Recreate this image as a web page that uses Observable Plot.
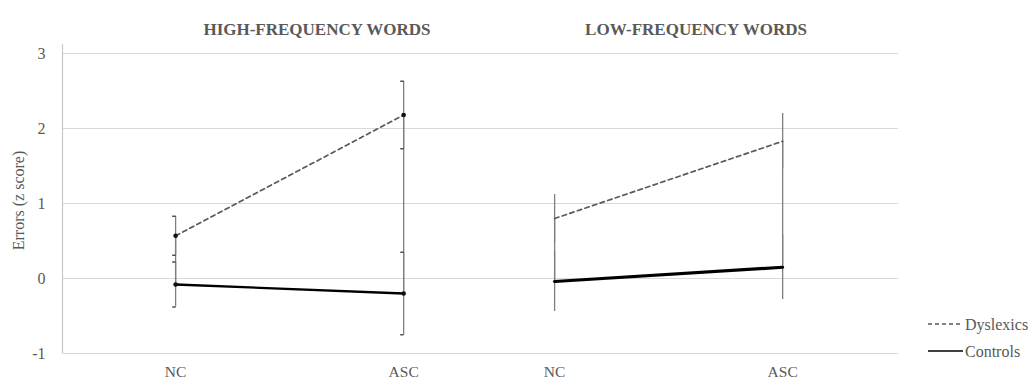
<!DOCTYPE html>
<html>
<head>
<meta charset="utf-8">
<script src="https://cdn.jsdelivr.net/npm/d3@7"></script>
<script src="https://cdn.jsdelivr.net/npm/@observablehq/plot@0.6"></script>
<style>
  html, body { margin: 0; padding: 0; background: #fff; }
  #chart { position: relative; width: 1031px; height: 381px; }
  #chart svg text { font-family: 'Liberation Serif', 'Times New Roman', serif; }
</style>
</head>
<body>
<div id="chart"></div>
<script>
// ---- data ----
const groups = ["HIGH-FREQUENCY WORDS", "LOW-FREQUENCY WORDS"];
const conditions = ["NC", "ASC"];
const seriesNames = ["Dyslexics", "Controls"];
// order: HF NC, HF ASC, LF NC, LF ASC
const dyslexicsMean = [0.57, 2.18, 0.80, 1.83];
const dyslexicsErr  = [0.26, 0.45, 0.32, 0.37];
const controlsMean  = [-0.08, -0.20, -0.04, 0.15];
const controlsErr   = [0.30, 0.55, 0.40, 0.43];
const yTicks = [-1, 0, 1, 2, 3];

// ---- tables ----
const groupOffset = 1.662; // horizontal spacing between the two word-frequency panels
const rows = [];
const cats = [];
groups.forEach((g, gi) => {
  conditions.forEach((c, ci) => {
    const k = gi * 2 + ci;
    const pos = gi * groupOffset + ci;
    rows.push({group: g, gi, condition: c, series: "Dyslexics", mean: dyslexicsMean[k], err: dyslexicsErr[k], pos});
    rows.push({group: g, gi, condition: c, series: "Controls", mean: controlsMean[k], err: controlsErr[k], pos});
    cats.push({group: g, gi, condition: c, pos, hi: dyslexicsMean[k], lo: controlsMean[k]});
  });
});
const tickPos = cats.map(d => d.pos);
const tickLabel = new Map(cats.map(d => [d.pos, d.condition]));
const titles = groups.map((g, gi) => ({title: g, pos: gi * groupOffset + 0.62}));

const serif = "'Liberation Serif', 'Times New Roman', serif";
const grey = "#595959";
const cap = 0.015;
const hf = d => d.gi === 0;
const lf = d => d.gi === 1;

const plot = Plot.plot({
  width: 1031,
  height: 381,
  marginTop: 53,
  marginBottom: 28,
  marginLeft: 62,
  marginRight: 133,
  style: {fontFamily: serif, background: "#fff", overflow: "visible"},
  x: {type: "linear", domain: [-0.496, 3.17], axis: null},
  y: {domain: [-1, 3], axis: null},
  marks: [
    Plot.ruleY(yTicks, {stroke: "#d9d9d9", strokeWidth: 1.2}),
    Plot.ruleX([-0.496], {y1: -1, y2: 3.12, stroke: "#c8c8c8", strokeWidth: 1.2}),
    Plot.axisY(yTicks, {tickSize: 0, tickPadding: 17, fontSize: 16, fill: grey, fontFamily: serif, label: null, tickFormat: d => String(d)}),
    Plot.axisX(tickPos, {tickSize: 0, tickPadding: 12, fontSize: 15.5, fill: grey, fontFamily: serif, label: null, tickFormat: d => tickLabel.get(d)}),
    Plot.text(["Errors (z score)"], {frameAnchor: "left", textAnchor: "middle", rotate: -90, dx: -44, dy: -3, fontSize: 16, fill: grey, fontFamily: serif}),
    // high-low connectors between series means
    Plot.ruleX(cats, {x: "pos", y1: "lo", y2: "hi", stroke: "#7f7f7f", strokeWidth: 1.3}),
    // error bars
    Plot.ruleX(rows, {x: "pos", y1: d => d.mean - d.err, y2: d => d.mean + d.err, stroke: "#7f7f7f", strokeWidth: 1.3}),
    Plot.link(rows.filter(hf), {x1: d => d.pos - cap, x2: "pos", y1: d => d.mean + d.err, y2: d => d.mean + d.err, stroke: "#444", strokeWidth: 1.4}),
    Plot.link(rows.filter(hf), {x1: d => d.pos - cap, x2: "pos", y1: d => d.mean - d.err, y2: d => d.mean - d.err, stroke: "#444", strokeWidth: 1.4}),
    // lines
    Plot.line(rows.filter(d => d.series === "Dyslexics"), {x: "pos", y: "mean", z: "group", stroke: grey, strokeWidth: 1.7, strokeDasharray: "4.5,3.5"}),
    Plot.line(rows.filter(d => d.series === "Controls" && hf(d)), {x: "pos", y: "mean", stroke: "#000", strokeWidth: 2.4}),
    Plot.line(rows.filter(d => d.series === "Controls" && lf(d)), {x: "pos", y: "mean", stroke: "#000", strokeWidth: 3.2}),
    Plot.dot(rows.filter(hf), {x: "pos", y: "mean", r: 2.3, fill: "#111"}),
    // panel titles
    Plot.text(titles, {x: "pos", text: "title", frameAnchor: "top", dy: -31, fontSize: 17, fontWeight: "bold", fill: grey, fontFamily: serif})
  ]
});
document.getElementById("chart").appendChild(plot);

// legend
const svg = d3.select(plot);
const leg = svg.append("g").attr("text-anchor", "start");
const items = [
  {name: seriesNames[0], y: 324, stroke: grey, dash: "4,3", w: 1.4},
  {name: seriesNames[1], y: 351, stroke: "#000", dash: null, w: 1.7}
];
items.forEach(it => {
  leg.append("line").attr("x1", 928).attr("x2", 963).attr("y1", it.y).attr("y2", it.y)
    .attr("stroke", it.stroke).attr("stroke-width", it.w).attr("stroke-dasharray", it.dash);
  leg.append("text").attr("x", 965).attr("y", it.y).attr("dy", "0.35em")
    .style("font-family", serif).style("font-size", "16px").attr("fill", grey).text(it.name);
});
</script>
</body>
</html>
